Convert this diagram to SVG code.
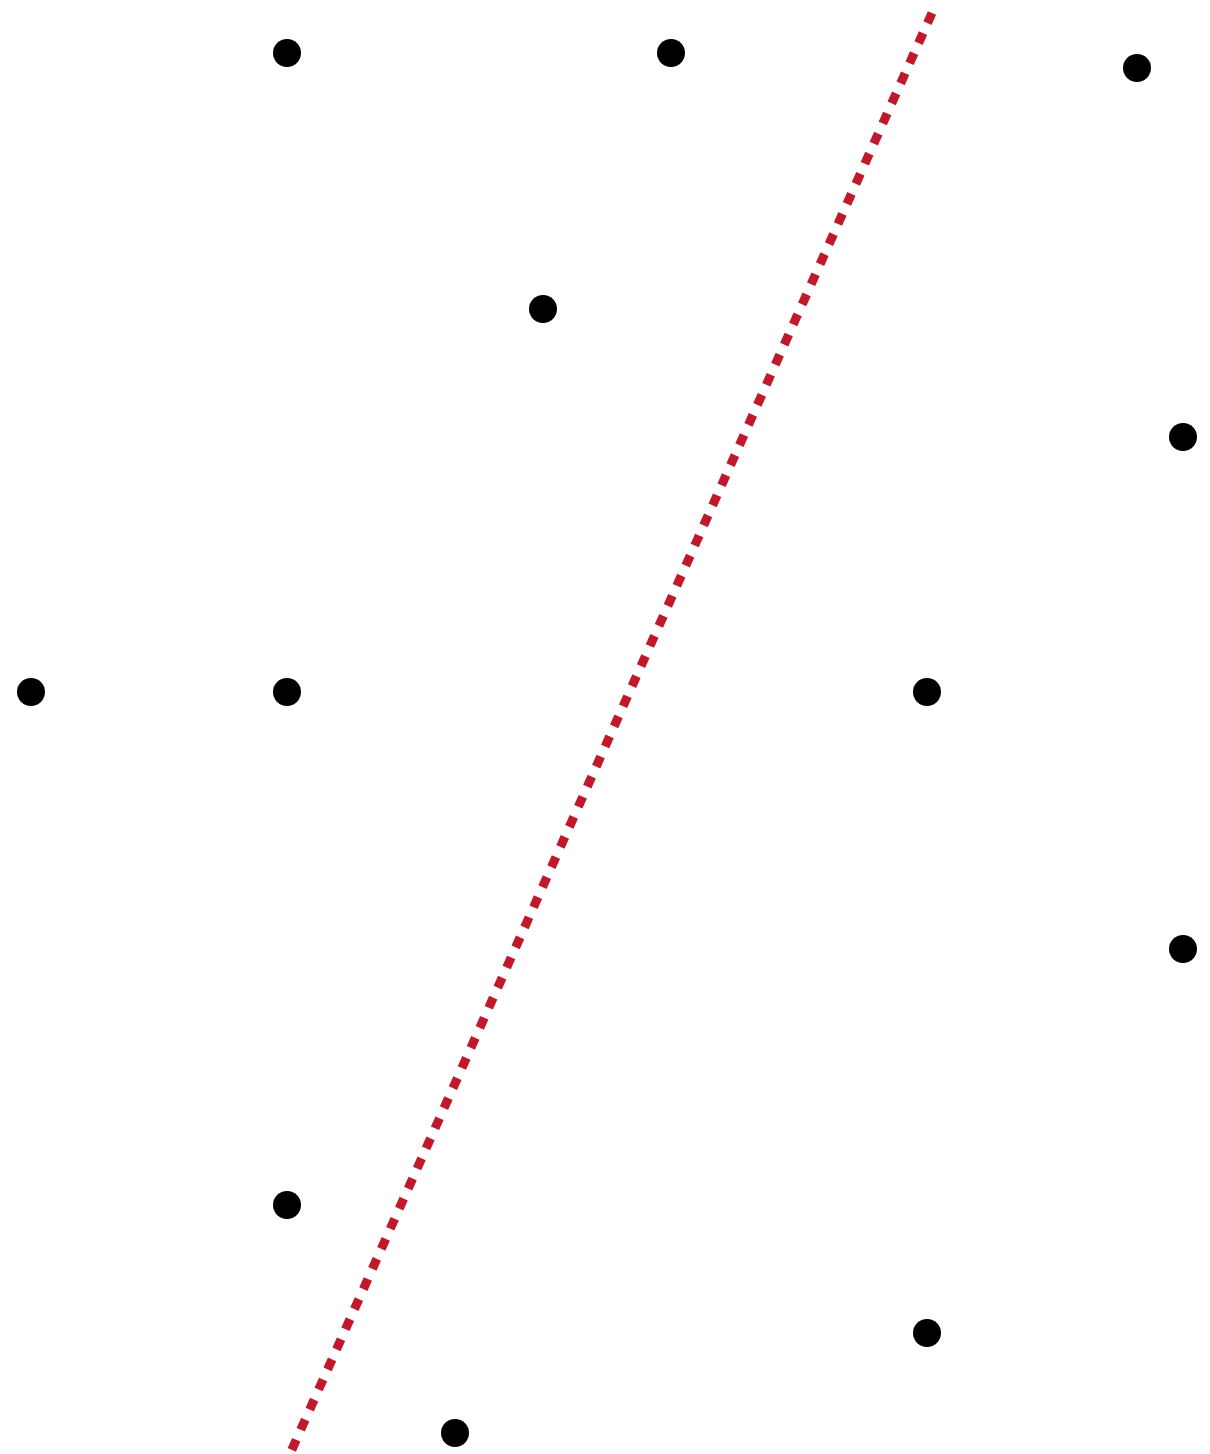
<svg xmlns="http://www.w3.org/2000/svg" width="1210" height="1454" viewBox="0 0 1210 1454">
<style>
.dot{fill:#000}
.cut{stroke:#c1192c;stroke-width:9;stroke-dasharray:11 11;fill:none}
</style>
<rect width="1210" height="1454" fill="#fff"/>
<g id="connectors">
<line class="cut" x1="932" y1="13" x2="289" y2="1456"/>
</g>
<g id="p1"><circle class="dot" cx="287" cy="53" r="14"/></g>
<g id="p2"><circle class="dot" cx="671" cy="53" r="14"/></g>
<g id="p3"><circle class="dot" cx="1137" cy="68" r="14"/></g>
<g id="p4"><circle class="dot" cx="543" cy="309" r="14"/></g>
<g id="p5"><circle class="dot" cx="1183" cy="437" r="14"/></g>
<g id="p6"><circle class="dot" cx="31" cy="692" r="14"/></g>
<g id="p7"><circle class="dot" cx="287" cy="692" r="14"/></g>
<g id="p8"><circle class="dot" cx="927" cy="692" r="14"/></g>
<g id="p9"><circle class="dot" cx="1183" cy="949" r="14"/></g>
<g id="p10"><circle class="dot" cx="287" cy="1205" r="14"/></g>
<g id="p11"><circle class="dot" cx="927" cy="1333" r="14"/></g>
<g id="p12"><circle class="dot" cx="455" cy="1433" r="14"/></g>
</svg>
